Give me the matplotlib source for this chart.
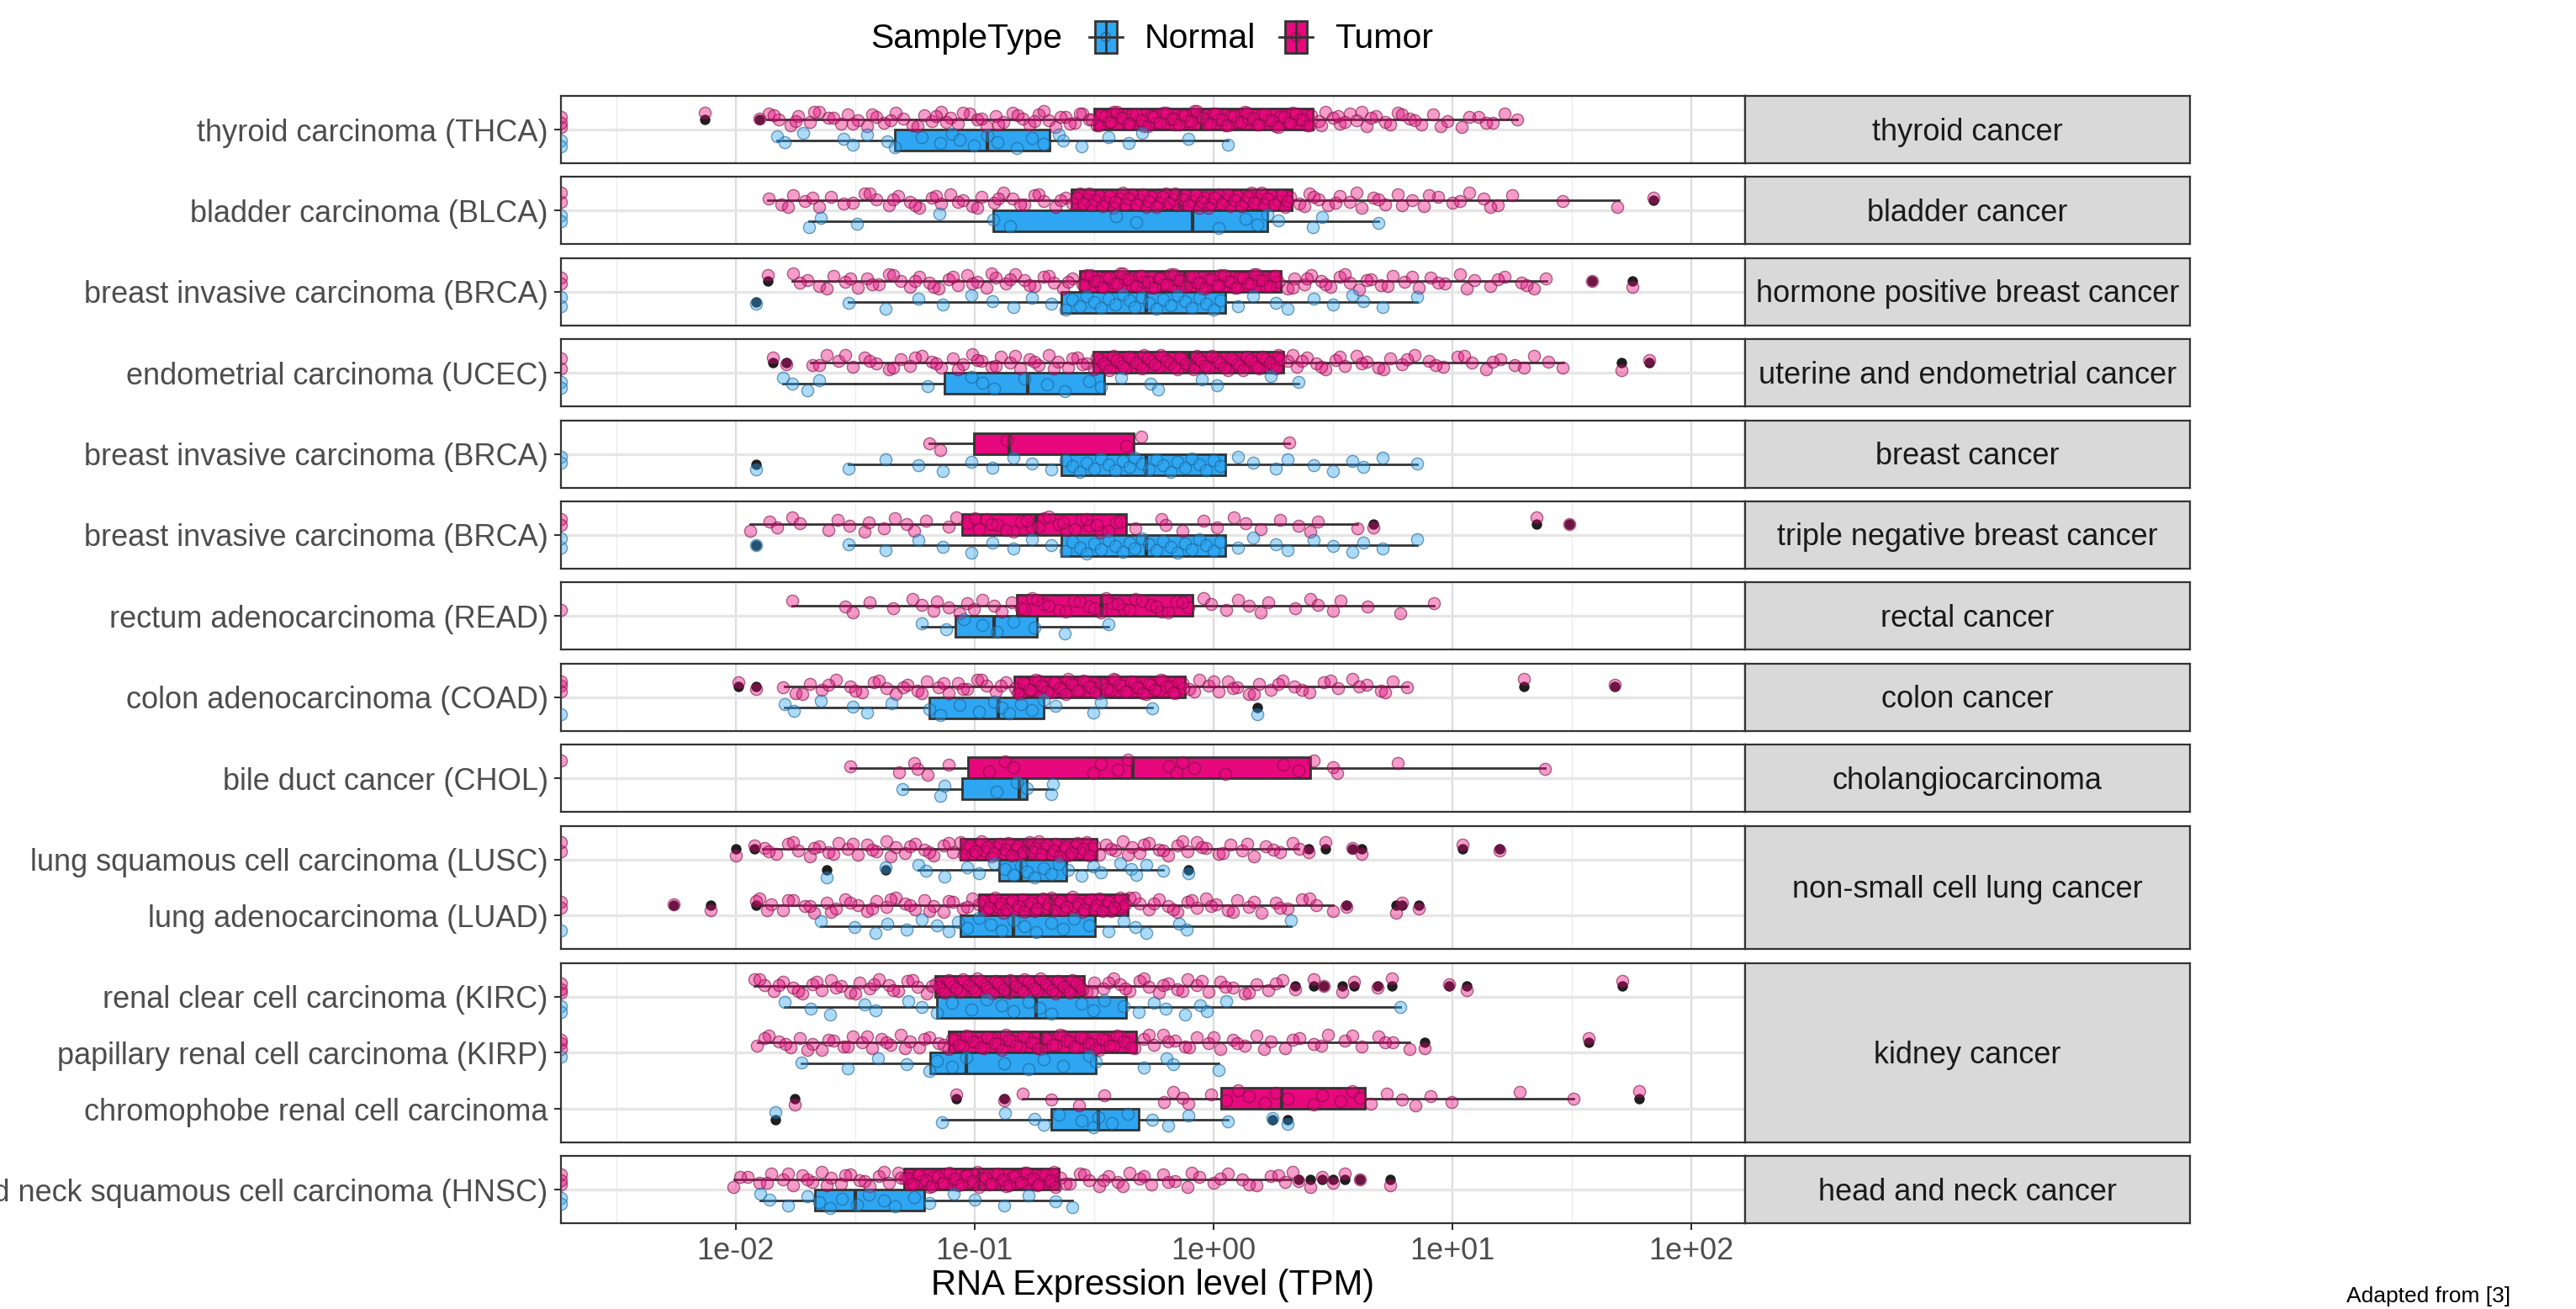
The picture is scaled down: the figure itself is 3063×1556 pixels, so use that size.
import numpy as np
import matplotlib.pyplot as plt
from matplotlib.colors import to_rgb
from matplotlib.patches import Rectangle, Circle
from matplotlib.ticker import FixedLocator
from matplotlib.transforms import offset_copy

plt.rcParams['font.family'] = ['Liberation Sans', 'DejaVu Sans']

# === data (log10 TPM, Z = zero expression, drawn at the panel edge) ===
Z = -np.inf

row_labels = [
    "thyroid carcinoma (THCA)", "bladder carcinoma (BLCA)",
    "breast invasive carcinoma (BRCA)", "endometrial carcinoma (UCEC)",
    "breast invasive carcinoma (BRCA)", "breast invasive carcinoma (BRCA)",
    "rectum adenocarcinoma (READ)", "colon adenocarcinoma (COAD)",
    "bile duct cancer (CHOL)", "lung squamous cell carcinoma (LUSC)",
    "lung adenocarcinoma (LUAD)", "renal clear cell carcinoma (KIRC)",
    "papillary renal cell carcinoma (KIRP)", "chromophobe renal cell carcinoma",
    "head and neck squamous cell carcinoma (HNSC)",
]
panel_labels = [
    "thyroid cancer", "bladder cancer", "hormone positive breast cancer",
    "uterine and endometrial cancer", "breast cancer", "triple negative breast cancer",
    "rectal cancer", "colon cancer", "cholangiocarcinoma",
    "non-small cell lung cancer", "kidney cancer", "head and neck cancer",
]
panel_sizes = [1, 1, 1, 1, 1, 1, 1, 1, 1, 2, 3, 1]

xtick_vals = [1e-2, 1e-1, 1e0, 1e1, 1e2]
xtick_labels = ["1e-02", "1e-01", "1e+00", "1e+01", "1e+02"]

# box stats: lower whisker, Q1, median, Q3, upper whisker
tumor_box = [
    (-1.87, -0.50, -0.05, 0.415, 1.27),
    (-1.865, -0.596, -0.14, 0.328, 1.696),
    (-1.763, -0.558, -0.12, 0.281, 1.393),
    (-1.684, -0.504, -0.10, 0.293, 1.464),
    (-1.189, -1.001, -0.855, -0.335, 0.316),
    (-1.939, -1.052, -0.743, -0.367, 0.603),
    (-1.763, -0.823, -0.466, -0.089, 0.922),
    (-1.795, -0.835, -0.472, -0.118, 0.813),
    (-1.521, -1.027, -0.338, 0.405, 1.387),
    (-1.885, -1.059, -0.78, -0.488, 0.357),
    (-1.897, -0.982, -0.68, -0.36, 0.50),
    (-1.923, -1.164, -0.85, -0.542, 0.293),
    (-1.907, -1.107, -0.72, -0.322, 0.82),
    (-0.80, 0.032, 0.284, 0.635, 1.508),
    (-2.006, -1.295, -0.98, -0.647, 0.325),
]
normal_box = [
    (-1.827, -1.333, -0.947, -0.686, 0.061),
    (-1.693, -0.922, -0.086, 0.226, 0.692),
    (-1.527, -0.638, -0.281, 0.048, 0.851),
    (-1.802, -1.126, -0.778, -0.456, 0.357),
    (-1.527, -0.638, -0.281, 0.048, 0.851),
    (-1.527, -0.638, -0.281, 0.048, 0.851),
    (-1.221, -1.081, -0.918, -0.737, -0.44),
    (-1.795, -1.189, -0.902, -0.711, -0.258),
    (-1.301, -1.052, -0.813, -0.781, -0.673),
    (-1.234, -0.896, -0.807, -0.615, -0.21),
    (-1.642, -1.059, -0.839, -0.497, 0.325),
    (-1.795, -1.158, -0.743, -0.367, 0.781),
    (-1.725, -1.186, -1.036, -0.491, 0.022),
    (-1.135, -0.679, -0.482, -0.313, 0.061),
    (-1.897, -1.668, -1.499, -1.209, -0.59),
]
tumor_out = [
    [-2.13, -1.90], [1.84], [-1.865, 1.585, 1.754], [-1.843, -1.786, 1.706, 1.824],
    [], [0.67, 1.352, 1.489], [], [-1.987, -1.916, 1.298, 1.68], [],
    [-2.0, -1.923, 0.399, 0.469, 0.58, 0.619, 1.043, 1.196],
    [-2.258, -2.105, -1.913, 0.558, 0.765, 0.788, 0.861],
    [0.341, 0.421, 0.462, 0.539, 0.59, 0.686, 0.746, 0.985, 1.059, 1.712],
    [0.883, 1.569], [-1.751, -1.078, -0.877, 1.783],
    [0.357, 0.405, 0.453, 0.5, 0.548, 0.612, 0.74],
]
normal_out = [
    [], [], [-1.916], [], [-1.916], [-1.916], [], [0.182], [],
    [-1.62, -1.371, -0.105], [], [], [], [-1.834, 0.246, 0.309], [],
]

# jittered samples (log10 TPM)
thca_t = [Z, Z, Z, -1.86, -1.82, -1.77, -1.74, -1.69, -1.65, -1.61, -1.56, -1.53, -1.49, -1.45,
          -1.41, -1.38, -1.33, -1.30, -1.26, -1.21, -1.18, -1.14, -1.10, -1.07, -1.02, -0.99,
          -0.95, -0.91, -0.88, -0.84, -0.80, -0.77, -0.73, -0.69, -0.66, -0.62, -0.58, -0.55,
          -0.52, -0.49, -0.47, -0.44, -0.42, -0.39, -0.36, -0.34, -0.31, -0.29, -0.26, -0.24,
          -0.21, -0.18, -0.16, -0.13, -0.11, -0.08, -0.06, -0.03, 0.00, 0.02, 0.05, 0.07, 0.10,
          0.13, 0.15, 0.18, 0.20, 0.23, 0.26, 0.28, 0.31, 0.33, 0.36, 0.39, 0.41, 0.44, 0.47,
          0.50, 0.53, 0.57, 0.60, 0.64, 0.68, 0.72, 0.77, 0.82, 0.87, 0.92, 0.98, 1.04, 1.11,
          1.17, 1.22, 1.27]
thca_t2 = [-0.48, -0.455, -0.43, -0.405, -0.38, -0.35, -0.325, -0.30, -0.275, -0.25, -0.225,
           -0.195, -0.17, -0.145, -0.12, -0.095, -0.07, -0.045, -0.015, 0.01, 0.035, 0.06,
           0.085, 0.115, 0.14, 0.165, 0.19, 0.215, 0.245, 0.27, 0.295, 0.32, 0.345, 0.375,
           0.40, -1.84, -1.75, -1.67, -1.59, -1.51, -1.43, -1.35, -1.24, -1.16, -1.12, -1.05,
           -0.97, -0.90, -0.82, -0.75, -0.71, -0.64, -0.60, -0.56, -0.51, 0.45, 0.52, 0.55,
           0.62, 0.66, 0.74, 0.79, 0.84, 0.95, 1.07, 1.14]
thca_n = [Z, Z, -1.827, -1.795, -1.716, -1.547, -1.508, -1.451, -1.365, -1.333, -1.221, -1.142,
          -1.094, -1.062, -1.004, -0.947, -0.903, -0.823, -0.759, -0.711, -0.647, -0.631,
          -0.552, -0.440, -0.354, -0.297, -0.105, 0.061]
blca_t = [Z, Z, -1.86, -1.81, -1.76, -1.71, -1.65, -1.60, -1.51, -1.46, -1.41, -1.36, -1.32,
          -1.27, -1.23, -1.18, -1.14, -1.10, -1.05, -1.01, -0.97, -0.92, -0.88, -0.84, -0.79,
          -0.75, -0.71, -0.66, -0.62, -0.59, -0.56, -0.53, -0.51, -0.48, -0.45, -0.42, -0.39,
          -0.37, -0.34, -0.31, -0.28, -0.26, -0.23, -0.20, -0.17, -0.15, -0.12, -0.09, -0.06,
          -0.04, -0.01, 0.02, 0.05, 0.07, 0.10, 0.13, 0.16, 0.18, 0.21, 0.24, 0.27, 0.30, 0.32,
          0.36, 0.40, 0.44, 0.48, 0.53, 0.57, 0.62, 0.67, 0.72, 0.77, 0.83, 0.88, 0.94, 1.00,
          1.07, 1.13, 1.19, 1.25, 1.46, 1.69]
blca_t2 = [-0.575, -0.545, -0.52, -0.495, -0.465, -0.435, -0.41, -0.38, -0.355, -0.325, -0.295,
           -0.27, -0.24, -0.215, -0.185, -0.16, -0.13, -0.105, -0.075, -0.05, -0.02, 0.005,
           0.035, 0.06, 0.09, 0.115, 0.145, 0.17, 0.2, 0.225, 0.255, 0.285, 0.31, -1.78, -1.68,
           -1.55, -1.44, -1.34, -1.25, -1.16, -1.07, -0.99, -0.9, -0.81, -0.73, -0.64, 0.38,
           0.42, 0.51, 0.6, 0.69, 0.79, 0.9, 1.03, 1.16]
blca_n = [Z, Z, -1.693, -1.645, -1.492, -1.148, -0.922, -0.851, -0.408, -0.322, 0.022, 0.134,
          0.185, 0.226, 0.271, 0.415, 0.456, 0.692]
brca_t = [Z, Z, -1.76, -1.70, -1.65, -1.59, -1.54, -1.49, -1.45, -1.40, -1.36, -1.31, -1.27,
          -1.23, -1.19, -1.15, -1.11, -1.07, -1.03, -0.99, -0.95, -0.91, -0.87, -0.83, -0.79,
          -0.75, -0.71, -0.67, -0.63, -0.59, -0.55, -0.53, -0.50, -0.47, -0.45, -0.42, -0.39,
          -0.37, -0.34, -0.31, -0.29, -0.26, -0.23, -0.21, -0.18, -0.15, -0.13, -0.10, -0.07,
          -0.05, -0.02, 0.01, 0.03, 0.06, 0.09, 0.11, 0.14, 0.17, 0.19, 0.22, 0.25, 0.27, 0.31,
          0.34, 0.38, 0.41, 0.45, 0.49, 0.53, 0.57, 0.61, 0.66, 0.70, 0.75, 0.80, 0.86, 0.91,
          0.97, 1.03, 1.09, 1.16, 1.22, 1.29, 1.34, 1.39]
brca_t2 = [-0.54, -0.515, -0.485, -0.46, -0.435, -0.405, -0.38, -0.355, -0.325, -0.3, -0.275,
           -0.245, -0.22, -0.195, -0.165, -0.14, -0.115, -0.085, -0.06, -0.035, -0.005, 0.02,
           0.045, 0.075, 0.1, 0.125, 0.155, 0.18, 0.205, 0.235, 0.26, -1.73, -1.62, -1.52,
           -1.43, -1.34, -1.25, -1.17, -1.09, -1.01, -0.93, -0.85, -0.77, -0.69, -0.61, 0.33,
           0.39, 0.47, 0.55, 0.64, 0.73, 0.83, 0.94, 1.06, 1.19, 1.31]
brca_n = [Z, Z, -1.527, -1.371, -1.234, -1.132, -1.014, -0.925, -0.839, -0.759, -0.679, -0.62,
          -0.59, -0.56, -0.53, -0.50, -0.47, -0.44, -0.41, -0.38, -0.35, -0.33, -0.30, -0.27,
          -0.24, -0.21, -0.18, -0.15, -0.12, -0.09, -0.06, -0.03, 0.0, 0.03, 0.102, 0.166,
          0.261, 0.309, 0.421, 0.501, 0.58, 0.628, 0.708, 0.851]
ucec_t = [Z, Z, -1.68, -1.62, -1.57, -1.51, -1.46, -1.41, -1.36, -1.31, -1.27, -1.22, -1.18,
          -1.14, -1.09, -1.05, -1.01, -0.97, -0.93, -0.89, -0.85, -0.81, -0.77, -0.73, -0.69,
          -0.65, -0.61, -0.57, -0.53, -0.50, -0.47, -0.45, -0.42, -0.39, -0.37, -0.34, -0.31,
          -0.29, -0.26, -0.23, -0.21, -0.18, -0.15, -0.13, -0.10, -0.07, -0.05, -0.02, 0.01,
          0.03, 0.06, 0.09, 0.11, 0.14, 0.17, 0.19, 0.22, 0.25, 0.27, 0.31, 0.35, 0.39, 0.43,
          0.47, 0.51, 0.55, 0.60, 0.64, 0.69, 0.74, 0.79, 0.84, 0.90, 0.96, 1.02, 1.08, 1.14,
          1.20, 1.26, 1.34, 1.40, 1.46]
ucec_t2 = [-0.49, -0.46, -0.435, -0.405, -0.38, -0.355, -0.325, -0.3, -0.275, -0.245, -0.22,
           -0.195, -0.165, -0.14, -0.115, -0.085, -0.06, -0.035, -0.005, 0.02, 0.045, 0.075,
           0.1, 0.125, 0.155, 0.18, 0.205, 0.235, 0.26, 0.28, -1.65, -1.54, -1.44, -1.34,
           -1.25, -1.16, -1.07, -0.99, -0.91, -0.83, -0.75, -0.67, -0.59, -0.55, 0.33, 0.37,
           0.45, 0.53, 0.62, 0.71, 0.81, 0.93, 1.05, 1.17, 1.3]
ucec_n = [Z, Z, -1.802, -1.763, -1.70, -1.652, -1.196, -1.014, -0.966, -0.918, -0.791, -0.695,
          -0.622, -0.52, -0.472, -0.386, -0.265, -0.233, -0.048, 0.016, 0.239, 0.357]
breast_t = [-1.189, -1.142, -0.864, -0.367, -0.303, 0.316]
tnbc_t = [Z, Z, -1.939, -1.859, -1.827, -1.763, -1.731, -1.610, -1.572, -1.524, -1.460, -1.444,
          -1.381, -1.333, -1.285, -1.253, -1.205, -1.110, -1.078, -1.030, -0.982, -0.950,
          -0.903, -0.839, -0.807, -0.759, -0.711, -0.647, -0.615, -0.551, -0.520, -0.472,
          -0.408, -0.328, -0.217, -0.201, -0.131, -0.041, 0.016, 0.086, 0.134, 0.198, 0.277,
          0.357, 0.405, 0.437, 0.603]
tnbc_t2 = [-1.0, -0.93, -0.87, -0.78, -0.73, -0.69, -0.63, -0.58, -0.53, -0.49, -0.44, -0.39]
read_t = [Z, -1.763, -1.540, -1.508, -1.438, -1.342, -1.260, -1.221, -1.173, -1.158, -1.110,
          -1.062, -1.030, -1.004, -0.966, -0.918, -0.886, -0.845, -0.807, -0.759, -0.711,
          -0.647, -0.583, -0.520, -0.472, -0.424, -0.376, -0.328, -0.265, -0.217, -0.153,
          -0.105, -0.041, -0.010, 0.054, 0.102, 0.150, 0.198, 0.230, 0.341, 0.405, 0.437,
          0.501, 0.533, 0.644, 0.781, 0.922]
read_t2 = [-0.79, -0.74, -0.69, -0.62, -0.56, -0.5, -0.45, -0.4, -0.35, -0.3, -0.24, -0.19, -0.13]
read_n = [-1.221, -1.119, -1.046, -0.966, -0.909, -0.839, -0.749, -0.622, -0.44]
coad_t = [Z, Z, Z, -1.80, -1.75, -1.69, -1.64, -1.58, -1.52, -1.47, -1.42, -1.37, -1.33, -1.28,
          -1.24, -1.20, -1.15, -1.11, -1.07, -1.03, -0.99, -0.95, -0.91, -0.87, -0.83, -0.81,
          -0.78, -0.76, -0.73, -0.71, -0.68, -0.66, -0.63, -0.61, -0.58, -0.56, -0.53, -0.51,
          -0.48, -0.46, -0.43, -0.41, -0.38, -0.36, -0.33, -0.31, -0.28, -0.26, -0.23, -0.21,
          -0.18, -0.16, -0.13, -0.10, -0.06, -0.02, 0.02, 0.06, 0.10, 0.15, 0.19, 0.24, 0.29,
          0.34, 0.40, 0.46, 0.52, 0.58, 0.64, 0.70, 0.75, 0.81]
coad_t2 = [-0.82, -0.795, -0.77, -0.745, -0.72, -0.695, -0.67, -0.645, -0.62, -0.595, -0.57,
           -0.545, -0.52, -0.495, -0.47, -0.445, -0.42, -0.395, -0.37, -0.345, -0.32, -0.295,
           -0.27, -0.245, -0.22, -0.195, -0.17, -0.145, -0.125, -1.72, -1.61, -1.5, -1.4,
           -1.3, -1.22, -1.13, -1.05, -0.97, -0.89, -0.08, 0.0, 0.08, 0.17, 0.27, 0.37, 0.49,
           0.61, 0.72]
coad_n = [Z, -1.795, -1.757, -1.645, -1.508, -1.451, -1.349, -1.189, -1.142, -1.062, -0.982,
          -0.918, -0.886, -0.855, -0.807, -0.759, -0.711, -0.663, -0.504, -0.472, -0.258]
chol_t = [Z, -1.521, -1.317, -1.253, -1.237, -1.196, -1.110, -0.941, -0.871, -0.839, -0.504,
          -0.472, -0.402, -0.360, -0.185, -0.153, -0.131, -0.080, 0.048, 0.293, 0.357, 0.421,
          0.501, 0.517, 0.772, 1.387]
chol_n = [-1.301, -1.142, -1.126, -0.909, -0.823, -0.781, -0.679, -0.673]
lusc_t = [Z, Z, -1.88, -1.83, -1.78, -1.74, -1.69, -1.65, -1.61, -1.57, -1.53, -1.49, -1.45,
          -1.41, -1.37, -1.33, -1.29, -1.25, -1.21, -1.17, -1.13, -1.09, -1.06, -1.03, -1.01,
          -0.98, -0.96, -0.93, -0.91, -0.88, -0.86, -0.83, -0.81, -0.78, -0.76, -0.73, -0.71,
          -0.68, -0.66, -0.63, -0.61, -0.58, -0.56, -0.53, -0.51, -0.48, -0.45, -0.41, -0.38,
          -0.34, -0.31, -0.27, -0.23, -0.19, -0.15, -0.11, -0.07, -0.03, 0.02, 0.07, 0.12,
          0.17, 0.22, 0.28, 0.33, 0.36]
lusc_t2 = [-1.045, -1.02, -0.995, -0.97, -0.945, -0.92, -0.895, -0.87, -0.845, -0.82, -0.795,
           -0.77, -0.745, -0.72, -0.695, -0.67, -0.645, -0.62, -0.595, -0.57, -0.545, -0.52,
           -0.5, -1.86, -1.76, -1.67, -1.59, -1.51, -1.43, -1.35, -1.27, -1.19, -1.11, -0.43,
           -0.36, -0.29, -0.21, -0.13, -0.05, 0.04, 0.14, 0.25]
lusc_n = [-1.234, -1.205, -1.126, -1.030, -0.982, -0.918, -0.871, -0.839, -0.807, -0.781,
          -0.749, -0.711, -0.679, -0.647, -0.609, -0.551, -0.504, -0.472, -0.392, -0.344,
          -0.322, -0.281, -0.210]
luad_t = [Z, Z, -1.90, -1.85, -1.80, -1.76, -1.71, -1.67, -1.62, -1.58, -1.54, -1.49, -1.45,
          -1.41, -1.37, -1.33, -1.29, -1.25, -1.21, -1.17, -1.13, -1.09, -1.05, -1.01, -0.98,
          -0.95, -0.93, -0.90, -0.88, -0.85, -0.83, -0.80, -0.78, -0.75, -0.73, -0.70, -0.68,
          -0.65, -0.63, -0.60, -0.58, -0.55, -0.53, -0.50, -0.48, -0.45, -0.43, -0.40, -0.38,
          -0.35, -0.31, -0.27, -0.23, -0.19, -0.15, -0.11, -0.07, -0.03, 0.01, 0.06, 0.10,
          0.15, 0.20, 0.26, 0.31, 0.37, 0.43, 0.50]
luad_t2 = [-0.965, -0.94, -0.915, -0.89, -0.865, -0.84, -0.815, -0.79, -0.765, -0.74, -0.715,
           -0.69, -0.665, -0.64, -0.615, -0.59, -0.565, -0.54, -0.515, -0.49, -0.465, -0.44,
           -0.415, -0.39, -0.37, -1.87, -1.78, -1.69, -1.6, -1.52, -1.43, -1.35, -1.27, -1.19,
           -1.11, -1.03, -0.33, -0.25, -0.17, -0.09, -0.01, 0.08, 0.17, 0.28, 0.4]
luad_n = [Z, -1.642, -1.502, -1.413, -1.365, -1.285, -1.221, -1.158, -1.110, -1.068, -1.030,
          -0.982, -0.934, -0.886, -0.839, -0.791, -0.743, -0.679, -0.631, -0.583, -0.520,
          -0.440, -0.376, -0.328, -0.281, -0.143, -0.112, 0.325]
kirc_t = [Z, Z, Z, -1.92, -1.88, -1.84, -1.80, -1.76, -1.72, -1.68, -1.64, -1.60, -1.56, -1.52,
          -1.48, -1.44, -1.40, -1.36, -1.32, -1.28, -1.24, -1.20, -1.16, -1.14, -1.11, -1.09,
          -1.06, -1.04, -1.01, -0.99, -0.96, -0.94, -0.91, -0.89, -0.86, -0.84, -0.81, -0.79,
          -0.76, -0.74, -0.71, -0.69, -0.66, -0.64, -0.61, -0.59, -0.56, -0.53, -0.50, -0.46,
          -0.42, -0.39, -0.35, -0.31, -0.27, -0.23, -0.19, -0.15, -0.11, -0.07, -0.02, 0.03,
          0.08, 0.13, 0.18, 0.23, 0.29]
kirc_t2 = [-1.15, -1.125, -1.1, -1.075, -1.05, -1.025, -1.0, -0.975, -0.95, -0.925, -0.9,
           -0.875, -0.85, -0.825, -0.8, -0.775, -0.75, -0.725, -0.7, -0.675, -0.65, -0.625,
           -0.6, -0.575, -0.55, -1.9, -1.82, -1.74, -1.66, -1.58, -1.5, -1.42, -1.34, -1.26,
           -1.18, -0.51, -0.44, -0.37, -0.29, -0.21, -0.13, -0.05, 0.05, 0.15, 0.26]
kirc_n = [Z, Z, -1.795, -1.684, -1.604, -1.460, -1.413, -1.279, -1.221, -1.158, -1.094, -1.014,
          -0.950, -0.886, -0.839, -0.775, -0.727, -0.679, -0.552, -0.504, -0.456, -0.376,
          -0.312, -0.249, -0.201, -0.121, -0.057, -0.026, 0.054, 0.781]
kirp_t = [Z, Z, Z, -1.91, -1.86, -1.82, -1.77, -1.73, -1.68, -1.64, -1.59, -1.55, -1.51, -1.47,
          -1.43, -1.39, -1.35, -1.31, -1.27, -1.23, -1.19, -1.15, -1.11, -1.08, -1.05, -1.02,
          -0.99, -0.96, -0.93, -0.90, -0.87, -0.84, -0.81, -0.78, -0.75, -0.72, -0.69, -0.66,
          -0.63, -0.60, -0.57, -0.54, -0.51, -0.48, -0.45, -0.42, -0.39, -0.36, -0.33, -0.29,
          -0.25, -0.21, -0.16, -0.12, -0.07, -0.02, 0.03, 0.08, 0.13, 0.18, 0.24, 0.30, 0.36,
          0.42, 0.48, 0.55, 0.62, 0.69, 0.75, 0.82]
kirp_t2 = [-1.095, -1.065, -1.035, -1.005, -0.975, -0.945, -0.915, -0.885, -0.855, -0.825,
           -0.795, -0.765, -0.735, -0.705, -0.675, -0.645, -0.615, -0.585, -0.555, -0.525,
           -0.495, -0.465, -0.435, -0.405, -0.375, -0.345, -1.88, -1.79, -1.7, -1.61, -1.53,
           -1.45, -1.37, -1.29, -1.21, -1.13, -0.27, -0.19, -0.1, 0.0, 0.1, 0.21, 0.33, 0.45,
           0.58, 0.72]
kirp_n = [Z, -1.725, -1.531, -1.403, -1.285, -1.189, -1.158, -1.094, -1.036, -0.877, -0.775,
          -0.711, -0.631, -0.520, -0.491, -0.290, -0.195, -0.169, 0.022]
kich_t = [-0.800, -0.679, -0.561, -0.456, -0.207, -0.169, -0.131, -0.105, -0.010, 0.054, 0.102,
          0.150, 0.214, 0.261, 0.309, 0.421, 0.453, 0.533, 0.580, 0.612, 0.660, 0.724, 0.788,
          0.845, 0.909, 0.995, 1.282, 1.508]
kich_n = [-1.135, -0.871, -0.749, -0.711, -0.647, -0.552, -0.504, -0.482, -0.424, -0.360,
          -0.255, -0.191, -0.105, 0.061]
hnsc_t = [Z, Z, Z, -2.01, -1.95, -1.90, -1.85, -1.80, -1.76, -1.72, -1.68, -1.64, -1.60, -1.56,
          -1.52, -1.48, -1.44, -1.40, -1.36, -1.32, -1.29, -1.27, -1.24, -1.22, -1.19, -1.17,
          -1.14, -1.12, -1.09, -1.07, -1.04, -1.02, -0.99, -0.97, -0.94, -0.92, -0.89, -0.87,
          -0.84, -0.82, -0.79, -0.77, -0.74, -0.72, -0.69, -0.67, -0.64, -0.60, -0.56, -0.52,
          -0.48, -0.44, -0.40, -0.35, -0.31, -0.26, -0.21, -0.16, -0.11, -0.06, 0.00, 0.06,
          0.12, 0.18, 0.24, 0.30, 0.33]
hnsc_t2 = [-1.28, -1.255, -1.23, -1.205, -1.18, -1.155, -1.13, -1.105, -1.08, -1.055, -1.03,
           -1.005, -0.98, -0.955, -0.93, -0.905, -0.88, -0.855, -0.83, -0.805, -0.78, -0.755,
           -0.73, -0.705, -0.68, -0.66, -1.98, -1.87, -1.78, -1.7, -1.62, -1.54, -1.46, -1.38,
           -1.31, -0.62, -0.54, -0.46, -0.38, -0.29, -0.19, -0.09, 0.03, 0.15, 0.27]
hnsc_n = [Z, Z, -1.897, -1.859, -1.779, -1.700, -1.652, -1.604, -1.556, -1.492, -1.444, -1.381,
          -1.333, -1.253, -1.189, -1.087, -0.998, -0.877, -0.775, -0.663, -0.590]

tumor_pts = [thca_t + thca_t2, blca_t + blca_t2, brca_t + brca_t2, ucec_t + ucec_t2, breast_t,
             tnbc_t + tnbc_t2, read_t + read_t2, coad_t + coad_t2, chol_t,
             lusc_t + lusc_t2, luad_t + luad_t2, kirc_t + kirc_t2, kirp_t + kirp_t2, kich_t,
             hnsc_t + hnsc_t2]
normal_pts = [thca_n, blca_n, brca_n, ucec_n, brca_n, brca_n, read_n, coad_n, chol_n,
              lusc_n, luad_n, kirc_n, kirp_n, kich_n, hnsc_n]

# === style ===
W, H = 3063, 1556
NORMAL_C = "#2ea6f2"
TUMOR_C = "#e6087c"
NORMAL_EDGE = "#1d5f90"
TUMOR_EDGE = "#7a1040"
LINE = "#333333"
XMIN, XMAX = 10 ** -2.731, 10 ** 2.225
U, GAP, TOP = 66.7, 16.35, 114
PX0, PX1, SX1 = 667, 2075, 2604
BOXW, DODGE = 0.375, 0.1875


def to_tpm(v):
    v = np.asarray(v, dtype=float)
    return np.where(np.isfinite(v), 10.0 ** v, XMIN)


def jitter(n, phase):
    return ((np.arange(n) * 0.618034 + phase) % 1.0 - 0.5) * 0.28


fig = plt.figure(figsize=(W / 100, H / 100), dpi=100)

y_top = TOP
row = 0
for p, (plabel, n) in enumerate(zip(panel_labels, panel_sizes)):
    h = (n + 0.2) * U
    bottom = 1 - (y_top + h) / H
    ax = fig.add_axes([PX0 / W, bottom, (PX1 - PX0) / W, h / H])
    ax.set_xscale('log')
    ax.set_xlim(XMIN, XMAX)
    ax.set_ylim(0.4, n + 0.6)
    ax.set_axisbelow(True)

    for j in range(n):
        r = row + j
        yc = n - j
        groups = [
            (tumor_box[r], tumor_pts[r], tumor_out[r], TUMOR_C, TUMOR_EDGE, +DODGE),
            (normal_box[r], normal_pts[r], normal_out[r], NORMAL_C, NORMAL_EDGE, -DODGE),
        ]
        for k, (stats, pts, outs, c, ec, dy) in enumerate(groups):
            wl, q1, md, q3, wh = 10.0 ** np.array(stats)
            ax.bxp([dict(whislo=wl, q1=q1, med=md, q3=q3, whishi=wh, fliers=[])],
                   positions=[yc + dy], widths=BOXW, orientation='horizontal',
                   patch_artist=True, showcaps=False, showfliers=False, manage_ticks=False,
                   boxprops=dict(facecolor=c, edgecolor=LINE, linewidth=2),
                   whiskerprops=dict(color=LINE, linewidth=2),
                   medianprops=dict(color=LINE, linewidth=3), zorder=2)
            if outs:
                ax.scatter(to_tpm(outs), np.full(len(outs), yc + dy), s=80,
                           color="#1e1e1e", linewidths=0, zorder=3)
            allp = list(pts) + list(outs)
            ax.scatter(to_tpm(allp), yc + dy + jitter(len(allp), 0.37 * r + 0.5 * k), s=105,
                       facecolor=(*to_rgb(c), 0.4), edgecolor=(*to_rgb(ec), 0.6),
                       linewidths=1.0, zorder=4)

    # grid and ticks
    ax.set_xticks(xtick_vals)
    ax.xaxis.set_minor_locator(FixedLocator([10 ** e for e in (-2.5, -1.5, -0.5, 0.5, 1.5)]))
    ax.grid(which='major', axis='x', color='#dcdcdc', linewidth=1.6)
    ax.grid(which='minor', axis='x', color='#ededed', linewidth=1.0)
    ax.set_yticks([n - j for j in range(n)])
    ax.set_yticklabels(row_labels[row:row + n], fontsize=26, color='#4d4d4d')
    ax.grid(which='major', axis='y', color='#e6e6e6', linewidth=2.4)
    ax.tick_params(axis='y', length=6, width=1.5, color=LINE, pad=5)
    if p == len(panel_labels) - 1:
        ax.set_xticklabels(xtick_labels, fontsize=26, color='#4d4d4d')
        ax.tick_params(axis='x', which='major', length=6, width=1.5, color=LINE, pad=5)
        ax.tick_params(axis='x', which='minor', length=0)
    else:
        ax.tick_params(axis='x', which='both', length=0, labelbottom=False)
    for s in ax.spines.values():
        s.set_color(LINE)
        s.set_linewidth(1.6)

    # strip
    sax = fig.add_axes([PX1 / W, bottom, (SX1 - PX1) / W, h / H])
    sax.set_facecolor('#d9d9d9')
    sax.set_xticks([])
    sax.set_yticks([])
    for s in sax.spines.values():
        s.set_color(LINE)
        s.set_linewidth(1.6)
    sax.text(0.5, 0.5, plabel, ha='center', va='center', fontsize=26, color='#1a1a1a',
             transform=offset_copy(sax.transAxes, fig=fig, y=-3, units='dots'))

    y_top += h + GAP
    row += n

# === legend, axis title, caption (pixel overlay) ===
ov = fig.add_axes([0, 0, 1, 1])
ov.set_xlim(0, W)
ov.set_ylim(H, 0)
ov.axis('off')

LY = 46
ov.text(1035, LY, "SampleType", fontsize=29.5, ha='left', va='center')
for kx, c, ec, lab, tx in [(1302, NORMAL_C, NORMAL_EDGE, "Normal", 1361),
                           (1528, TUMOR_C, TUMOR_EDGE, "Tumor", 1587)]:
    ov.plot([kx - 7, kx + 33], [LY - 2, LY - 2], color=LINE, lw=2)
    ov.add_patch(Rectangle((kx, LY - 21), 26, 38, facecolor=c, edgecolor=LINE, lw=2))
    ov.plot([kx + 13, kx + 13], [LY - 21, LY + 17], color=LINE, lw=2)
    ov.add_patch(Circle((kx + 13, LY - 2), 5.5, facecolor='none', edgecolor=ec, lw=1, alpha=0.7))
    ov.text(tx, LY, lab, fontsize=29.5, ha='left', va='center')

ov.text((PX0 + PX1) / 2, 1528, "RNA Expression level (TPM)", fontsize=30,
        ha='center', va='center')
ov.text(2985, 1541, "Adapted from [3]", fontsize=19, ha='right', va='center')

fig.savefig("out.png", dpi=100, facecolor='white')
